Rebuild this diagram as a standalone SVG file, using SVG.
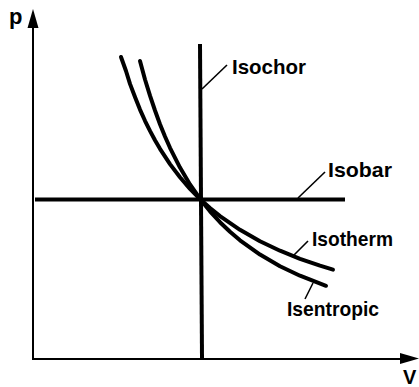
<svg xmlns="http://www.w3.org/2000/svg" width="419" height="387" viewBox="0 0 419 387">
<style>
.axis{stroke:#000;stroke-width:2;fill:none}
.thick{stroke:#000;stroke-width:4;fill:none;stroke-linecap:round;stroke-linejoin:round}
.lead{stroke:#000;stroke-width:1.6;fill:none}
.lbl{font-family:"Liberation Sans",Arial,sans-serif;font-weight:bold;font-size:21px;fill:#000}
</style>
<rect width="419" height="387" fill="#fff"/>
<g id="axes">
<line class="axis" x1="33" y1="359" x2="33" y2="26"/>
<polygon points="33,9 27.5,28 38.5,28" fill="#000"/>
<line class="axis" x1="32" y1="359" x2="402" y2="359"/>
<polygon points="419,358.5 400,353 400,364" fill="#000"/>
<text class="lbl" x="9" y="24" style="font-size:22px">p</text>
<text class="lbl" x="403" y="384" style="font-size:20px">V</text>
</g>
<g id="isochor">
<line class="thick" x1="200" y1="44" x2="202" y2="358" style="stroke-linecap:butt"/>
<text class="lbl" x="232" y="74" textLength="74" lengthAdjust="spacingAndGlyphs">Isochor</text>
</g>
<g id="isobar">
<line class="thick" x1="35" y1="199.5" x2="345" y2="199.5" style="stroke-linecap:butt"/>
<text class="lbl" x="328" y="177" textLength="64" lengthAdjust="spacingAndGlyphs">Isobar</text>
</g>
<g id="isotherm">
<polyline class="thick" points="121,57 126,71 130,83.9 135,97 140,109.6 145,120.8 150,130.9 155,140.2 160,148.8 170,164.1 180,177.3 190,188.9 200.5,199.5 210,208 220,216.1 240,229.8 260,241.2 280,250.7 300,258.8 320,265.7 333,269.7"/>
<text class="lbl" x="312" y="246" textLength="81" lengthAdjust="spacingAndGlyphs">Isotherm</text>
</g>
<g id="isentropic">
<polyline class="thick" points="140,61 145,79.5 150,95.7 155,110.5 160,124.2 165,136.5 170,147.8 180,167.6 190,184.4 200.5,199.5 210,211.3 220,222.2 230,231.8 240,240.3 260,254.6 280,266.2 300,275.7 326,285.8"/>
<text class="lbl" x="287" y="316" textLength="92" lengthAdjust="spacingAndGlyphs">Isentropic</text>
</g>
<g id="connectors">
<line class="lead" x1="202" y1="89" x2="227" y2="65"/>
<line class="lead" x1="298" y1="198" x2="325" y2="172"/>
<line class="lead" x1="293" y1="256" x2="308" y2="241"/>
<line class="lead" x1="313" y1="283" x2="305" y2="299"/>
</g>
</svg>
